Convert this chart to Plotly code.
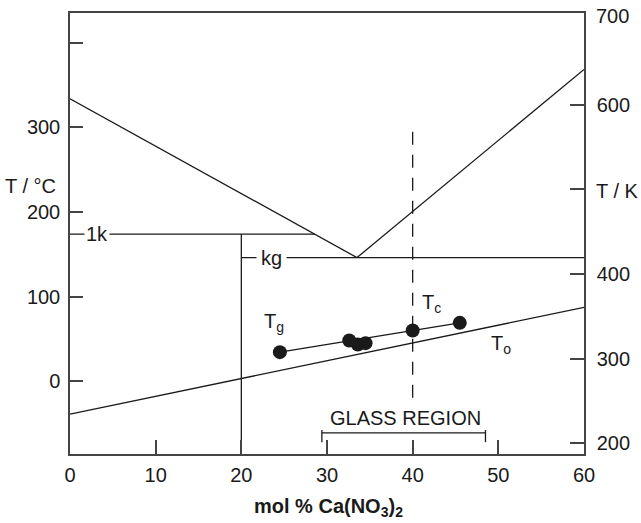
import plotly.graph_objects as go

# Phase diagram: KNO3 – Ca(NO3)2, temperatures in °C (right axis in K)
liq_left_x = [0, 33.5]
liq_left_T = [334, 146.2]
liq_right_x = [33.5, 60]
liq_right_T = [146.2, 368.6]

one_k_x = [0, 28.6]
one_k_T = [174, 174]

kg_x = [20, 60]
kg_T = [146.2, 146.2]

vert_x = [20, 20]
vert_T = [-85.9, 174]

to_x = [0, 60]
to_T = [-38.8, 87.4]

dash_x = [40, 40]
dash_T = [295, -22]

tg_x = [24.5, 32.6, 33.6, 34.5, 40.0, 45.5]
tg_T = [34.5, 48.2, 43.5, 45.1, 60.0, 69.1]
tg_fit_x = [24.5, 45.5]
tg_fit_T = [34.5, 69.1]

glass_x = [29.4, 48.5]
glass_T = -61
glass_cap = [-57.5, -72]

x_ticks = [0, 10, 20, 30, 40, 50, 60]
c_ticks = [0, 100, 200, 300, 400]
c_labels = ["0", "100", "200", "300", ""]
k_ticks = [200, 300, 400, 500, 600]
k_labels = ["200", "300", "400", "", "600"]

y_range = [-85.9, 435.3]
K0 = 273.15

FONT = "Liberation Sans, Arial, sans-serif"
INK = "#1a1a1a"
AX = "#444444"
FS = 20

fig = go.Figure()

def seg(x, y, dash=None, width=1.3):
    fig.add_trace(go.Scatter(x=x, y=y, mode="lines", showlegend=False, hoverinfo="skip",
                             line=dict(color=INK, width=width, dash=dash)))

seg(liq_left_x, liq_left_T)
seg(liq_right_x, liq_right_T)
seg(one_k_x, one_k_T)
seg(kg_x, kg_T)
seg(vert_x, vert_T)
seg(to_x, to_T)
seg(dash_x, dash_T, dash="13px,10px")
seg(tg_fit_x, tg_fit_T)
seg(glass_x, [glass_T, glass_T])
seg([glass_x[0], glass_x[0]], glass_cap)
seg([glass_x[1], glass_x[1]], glass_cap)

fig.add_trace(go.Scatter(x=tg_x, y=tg_T, mode="markers", showlegend=False, hoverinfo="skip",
                         marker=dict(color=INK, size=14)))

# Kelvin axis carrier
fig.add_trace(go.Scatter(x=[None], y=[None], yaxis="y2", showlegend=False, hoverinfo="skip"))

ann_font = dict(family=FONT, size=FS, color=INK)
annotations = [
    dict(x=3.1, y=174, text="1k", bgcolor="white", borderpad=1),
    dict(x=23.5, y=146.2, text="kg", bgcolor="white", borderpad=4),
    dict(x=23.8, y=69.4, text="T<sub>g</sub>"),
    dict(x=42.2, y=91.8, text="T<sub>c</sub>"),
    dict(x=50.3, y=43.5, text="T<sub>o</sub>"),
    dict(x=39.2, y=-43.5, text="GLASS REGION"),
]
for a in annotations:
    a.update(xref="x", yref="y", showarrow=False, font=ann_font, xanchor="center", yanchor="middle")

annotations += [
    dict(xref="paper", yref="y", x=-0.023, y=230.6, text="T / °C", xanchor="right", yanchor="middle",
         showarrow=False, font=ann_font),
    dict(xref="paper", yref="y", x=1.019, y=224.7, text="T / K", xanchor="left", yanchor="middle",
         showarrow=False, font=ann_font),
    dict(xref="paper", yref="y", x=1.019, y=431.8, text="700", xanchor="left", yanchor="middle",
         showarrow=False, font=ann_font),
    dict(xref="paper", yref="paper", x=0.502, y=-0.122, text="<b>mol % Ca(NO<sub>3</sub>)<sub>2</sub></b>",
         xanchor="center", yanchor="middle", showarrow=False, font=dict(family=FONT, size=20, color=INK)),
]

tick_font = dict(family=FONT, size=FS, color=INK)
fig.update_layout(
    width=641, height=523,
    margin=dict(l=70, r=56, t=11, b=69),
    paper_bgcolor="white", plot_bgcolor="white",
    font=dict(family=FONT, size=FS, color=INK),
    xaxis=dict(range=[0, 60], tickvals=x_ticks, ticks="inside", ticklen=14, tickcolor=AX, tickwidth=1.5,
               showline=True, linecolor=AX, linewidth=1.5, mirror=True, showgrid=False, zeroline=False,
               tickfont=tick_font, ticklabelstandoff=2),
    yaxis=dict(range=y_range, tickvals=c_ticks, ticktext=c_labels, ticks="inside", ticklen=13,
               tickcolor=AX, tickwidth=1.5, showline=True, linecolor=AX, linewidth=1.5, mirror=True,
               showgrid=False, zeroline=False, tickfont=tick_font, ticklabelstandoff=4),
    yaxis2=dict(range=[y_range[0] + K0, y_range[1] + K0], overlaying="y", side="right",
                tickvals=k_ticks, ticktext=k_labels, ticks="inside", ticklen=14, tickcolor=AX,
                tickwidth=1.5, showline=True, linecolor=AX, linewidth=1.5, showgrid=False,
                zeroline=False, tickfont=tick_font, ticklabelstandoff=7),
    annotations=annotations,
)

fig.write_html("out.html")
